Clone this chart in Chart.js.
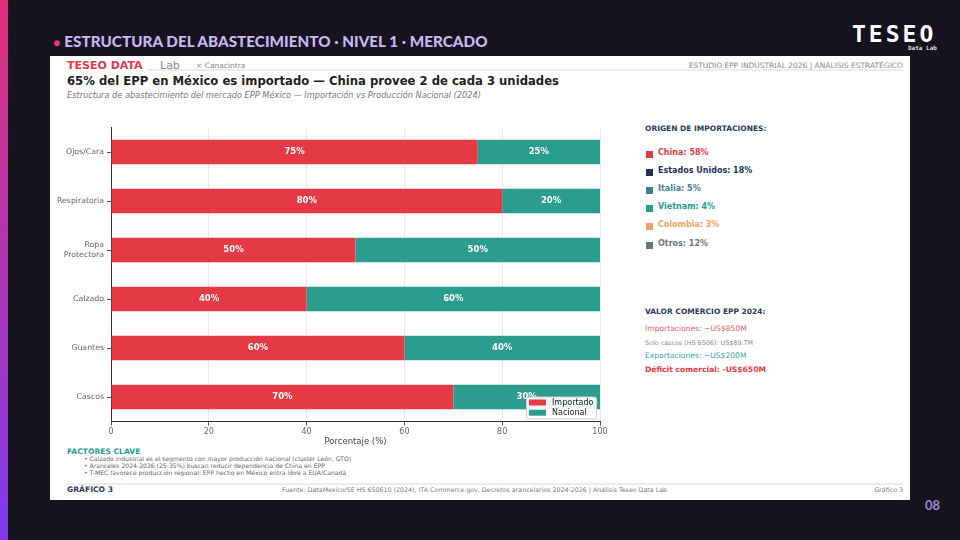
<!DOCTYPE html>
<html><head><meta charset="utf-8">
<script src="https://cdn.jsdelivr.net/npm/chart.js@4/dist/chart.umd.min.js"></script>
<style>
html,body{margin:0;padding:0;}
body{width:960px;height:540px;background:#16131f;position:relative;overflow:hidden;font-family:"Open Sans",sans-serif;}
.abs{position:absolute;white-space:nowrap;}
#strip{left:0;top:0;width:8px;height:540px;background:linear-gradient(#e0307a,#7c3aed);}
#ttl{left:53px;top:32px;font-family:"Lato",sans-serif;font-weight:900;font-size:15.2px;color:#c9b6f2;letter-spacing:0.05px;}
#ttl span{color:#e8337a;font-size:12px;margin-right:4px;}
#logo{left:852px;top:21px;font-family:"DejaVu Sans Mono",monospace;font-weight:bold;font-size:23px;color:#fff;letter-spacing:3px;}
#logosub{left:908px;top:44px;font-family:"DejaVu Sans Mono",monospace;font-size:6px;color:#ddd;font-weight:bold;}
#pg{left:925px;top:497px;font-family:"Lato",sans-serif;font-weight:bold;font-size:13px;color:#9d8bd6;}
#panel{left:50px;top:56px;width:860px;height:444px;background:#fff;}
.dj{font-family:"DejaVu Sans",sans-serif;}
</style></head>
<body>
<div id="strip" class="abs"></div>
<div id="ttl" class="abs"><span>●</span>ESTRUCTURA DEL ABASTECIMIENTO · NIVEL 1 · MERCADO</div>
<div id="logo" class="abs">TESEO</div>
<div id="logosub" class="abs">Data Lab</div>
<div id="pg" class="abs">08</div>
<div id="panel" class="abs">
  <div class="abs" style="left:17px;top:13px;width:836px;height:2px;background:#ececec;"></div>
  <div class="abs dj" style="left:17px;top:3px;font-weight:bold;font-size:11px;color:#e63946;background:#fff;padding-right:4px;">TESEO DATA</div>
  <div class="abs dj" style="left:110px;top:3px;font-size:11px;color:#888;">Lab</div>
  <div class="abs dj" style="left:146px;top:5px;font-size:7.5px;color:#888;">× Canacintra</div>
  <div class="abs dj" style="right:7px;top:5px;font-size:7.5px;color:#888;">ESTUDIO EPP INDUSTRIAL 2026 | ANÁLISIS ESTRATÉGICO</div>
  <div class="abs dj" style="left:17px;top:18px;font-weight:bold;font-size:11.65px;color:#222;">65% del EPP en México es importado — China provee 2 de cada 3 unidades</div>
  <div class="abs dj" style="left:17px;top:34px;font-style:italic;font-size:8.2px;color:#777;">Estructura de abastecimiento del mercado EPP México — Importación vs Producción Nacional (2024)</div>

  <div class="abs dj" style="left:595px;top:68px;font-weight:bold;font-size:7.5px;color:#2b3a55;">ORIGEN DE IMPORTACIONES:</div>
  <div id="origins"></div>

  <div class="abs dj" style="left:595px;top:251px;font-weight:bold;font-size:7.5px;color:#2b3a55;">VALOR COMERCIO EPP 2024:</div>
  <div class="abs dj" style="left:595px;top:268px;font-size:7.6px;color:#e0646c;">Importaciones: ~US$850M</div>
  <div class="abs dj" style="left:595px;top:283px;font-size:6.4px;color:#888;">Solo cascos (HS 6506): US$89.7M</div>
  <div class="abs dj" style="left:595px;top:295px;font-size:7.6px;color:#3aa99a;">Exportaciones: ~US$200M</div>
  <div class="abs dj" style="left:595px;top:309px;font-weight:bold;font-size:7.6px;color:#e63946;">Déficit comercial: -US$650M</div>

  <div class="abs dj" style="left:17px;top:391px;font-weight:bold;font-size:7.6px;color:#2a9d8f;">FACTORES CLAVE</div>
  <div class="abs dj" style="left:34px;top:399px;font-size:6.1px;color:#666;line-height:7.2px;">• Calzado industrial es el segmento con mayor producción nacional (clúster León, GTO)<br>• Aranceles 2024-2026 (25-35%) buscan reducir dependencia de China en EPP<br>• T-MEC favorece producción regional: EPP hecho en México entra libre a EUA/Canadá</div>

  <div class="abs" style="left:17px;top:427px;width:836px;height:2px;background:#ececec;"></div>
  <div class="abs dj" style="left:17px;top:429px;font-weight:bold;font-size:7.6px;color:#2b3a55;">GRÁFICO 3</div>
  <div class="abs dj" style="left:232px;top:430px;font-size:6.3px;color:#777;">Fuente: DataMexico/SE HS 650610 (2024), ITA Commerce.gov, Decretos arancelarios 2024-2026 | Análisis Teseo Data Lab</div>
  <div class="abs dj" style="right:7px;top:430px;font-size:6.3px;color:#777;">Gráfico 3</div>
</div>
<div class="abs" style="left:50px;top:115px;width:570px;height:332px;">
  <canvas id="c" width="570" height="332"></canvas>
</div>
<script>
const categories = ['Ojos/Cara','Respiratoria','Ropa\nProtectora','Calzado','Guantes','Cascos'];
const importado = [75, 80, 50, 40, 60, 70];
const nacional = [25, 20, 50, 60, 40, 30];
const xTicks = [0, 20, 40, 60, 80, 100];
const originLabels = ['China: 58%','Estados Unidos: 18%','Italia: 5%','Vietnam: 4%','Colombia: 3%','Otros: 12%'];
const originColors = ['#e63946','#1d3557','#457b9d','#2a9d8f','#f4a261','#6c757d'];

const og = document.getElementById('origins');
originLabels.forEach((t,i)=>{
  const top = 93.5 + i*18.2;
  og.insertAdjacentHTML('beforeend',
    `<div class="abs" style="left:596px;top:${top+1}px;width:7px;height:7px;background:${originColors[i]};"></div>`+
    `<div class="abs dj" style="left:608px;top:${top-2}px;font-weight:bold;font-size:8px;color:${originColors[i]};">${t}</div>`);
});

const labelPlugin = {
  id:'segLabels',
  afterDatasetsDraw(chart){
    const ctx = chart.ctx;
    ctx.save();
    ctx.fillStyle = '#fff';
    ctx.font = 'bold 8.5px "DejaVu Sans"';
    ctx.textAlign = 'center';
    ctx.textBaseline = 'middle';
    chart.data.datasets.forEach((ds,di)=>{
      chart.getDatasetMeta(di).data.forEach((el,i)=>{
        const p = el.getCenterPoint();
        ctx.fillText(ds.data[i] + '%', p.x, p.y);
      });
    });
    ctx.restore();
  },
  afterDraw(chart){
    const ctx = chart.ctx, a = chart.chartArea;
    const w = 70, h = 22;
    const x = a.right - w - 4, y = a.bottom - h - 3;
    ctx.save();
    ctx.fillStyle = 'rgba(255,255,255,0.92)';
    ctx.strokeStyle = '#d0d0d0';
    ctx.lineWidth = 1;
    ctx.beginPath();
    ctx.roundRect(x+0.5, y+0.5, w, h, 2);
    ctx.fill(); ctx.stroke();
    ctx.font = '8px "DejaVu Sans"';
    ctx.textBaseline = 'middle';
    chart.data.datasets.forEach((ds,i)=>{
      const ly = y + 6 + i*10.2;
      ctx.fillStyle = ds.backgroundColor;
      ctx.fillRect(x+3, ly-3, 17, 6);
      ctx.fillStyle = '#222';
      ctx.fillText(ds.label, x+26, ly+0.5);
    });
    ctx.restore();
  }
};

new Chart(document.getElementById('c'), {
  type:'bar',
  data:{
    labels: categories,
    datasets:[
      {label:'Importado', data: importado, backgroundColor:'#e63946', borderWidth:0},
      {label:'Nacional', data: nacional, backgroundColor:'#2a9d8f', borderWidth:0}
    ]
  },
  options:{
    indexAxis:'y',
    responsive:false,
    animation:false,
    layout:{padding:{left:0,right:20,top:12.5,bottom:0}},
    datasets:{bar:{barPercentage:0.505,categoryPercentage:1}},
    plugins:{legend:{display:false},tooltip:{enabled:false}},
    scales:{
      x:{
        type:'linear', stacked:true, min:0, max:100,
        afterBuildTicks(s){ s.ticks = xTicks.map(v=>({value:v})); },
        afterFit(s){ s.height = 25.5; },
        grid:{color:'#e9e9e9', tickColor:'#555', tickLength:4},
        border:{color:'#333', width:1},
        ticks:{color:'#666', font:{family:'DejaVu Sans', size:8}, padding:2},
        title:{display:true, text:'Porcentaje (%)', color:'#444', font:{family:'DejaVu Sans', size:8.5}, padding:{top:1,bottom:0}}
      },
      y:{
        type:'category', stacked:true, offset:true,
        afterFit(s){ s.width = 61; },
        grid:{drawOnChartArea:false, color:'#555', tickLength:4, offset:false},
        border:{color:'#333', width:1},
        ticks:{color:'#666', font:{family:'DejaVu Sans', size:7.8}, padding:3,
          callback(v){ const c = this.getLabelForValue(v); return c.split('\n'); }}
      }
    }
  },
  plugins:[labelPlugin]
});
</script>
</body></html>
